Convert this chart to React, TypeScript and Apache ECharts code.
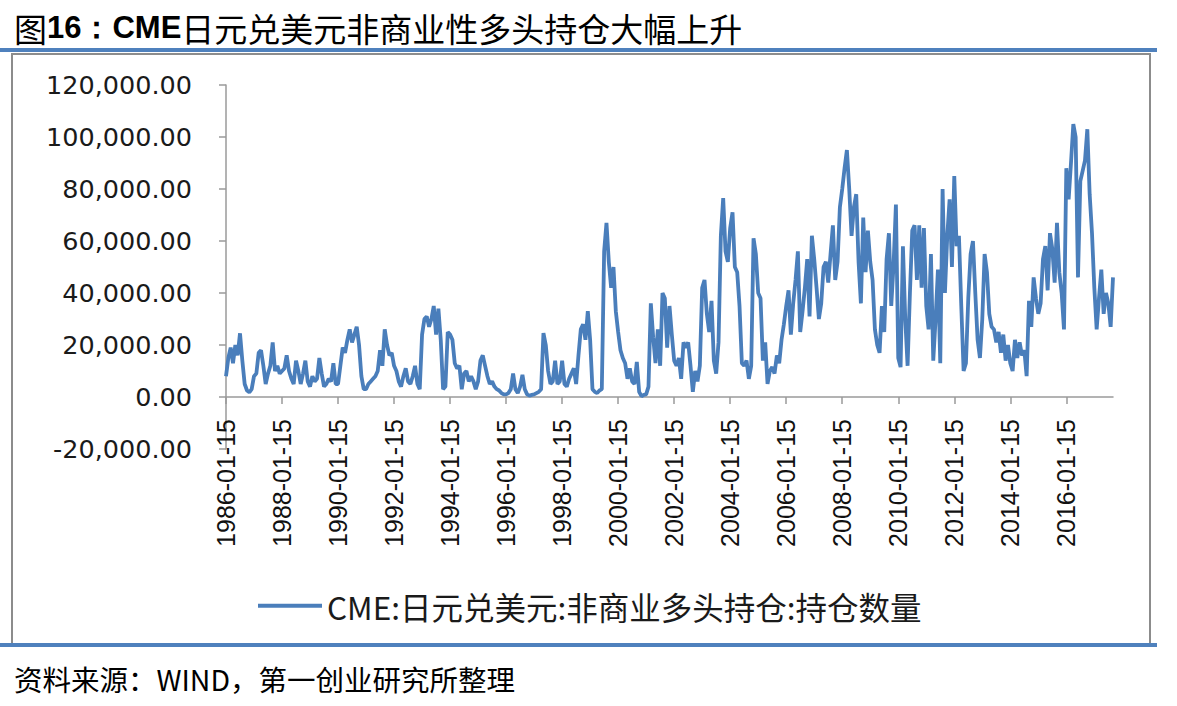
import React, { useEffect, useRef } from "react";
import * as echarts from "echarts";

// Monthly observation dates (mid-month), 1986-01-15 .. 2017-09-15
const startYear = 1986;
const endYear = 2017;
const endMonth = 9;
const categories: string[] = [];
for (let y = startYear; y <= endYear; y++) {
  for (let m = 1; m <= 12; m++) {
    if (y === endYear && m > endMonth) break;
    categories.push(`${y}-${String(m).padStart(2, "0")}-15`);
  }
}

// CME JPY/USD non-commercial long positions (contracts)
const positions1986_1991: number[] = [
  8000, 15000, 19000, 13000, 20000, 16000, 24500, 14000, 5000, 2500, 1800, 3000,
  8000, 9000, 17000, 18000, 12000, 5000, 9000, 12000, 21000, 10000, 12000, 9000,
  10000, 11000, 16000, 10000, 7000, 5000, 14000, 10000, 5000, 9000, 14000, 6000,
  4000, 8000, 6000, 7000, 15000, 9000, 4000, 5000, 7000, 6000, 13000, 5000,
  5000, 12000, 19000, 17000, 22000, 26000, 21000, 24000, 27000, 20000, 8000, 3000,
  3000, 5000, 6000, 7000, 8000, 10000, 18000, 12000, 26000, 20000, 16000, 17000,
];
const positions1992_1997: number[] = [
  12000, 10000, 6000, 4000, 8000, 11000, 6000, 5000, 8000, 12000, 5000, 3000,
  24000, 30000, 31000, 27000, 30000, 35000, 24000, 34000, 22000, 3000, 4000, 25000,
  24000, 22000, 13000, 11000, 12000, 3000, 9000, 10000, 6000, 8000, 6000, 3000,
  6000, 14000, 16000, 12000, 8000, 5000, 6000, 4000, 3000, 2500, 1500, 1000,
  1000, 1500, 3000, 9000, 3000, 1500, 4000, 8500, 3000, 1000, 500, 800,
  1000, 1500, 2000, 3000, 24600, 20000, 10000, 5000, 6000, 14000, 5000, 6000,
];
const positions1998_2003: number[] = [
  14000, 5000, 4000, 7000, 9000, 11000, 5000, 16000, 26000, 28000, 22000, 33000,
  22000, 3000, 2000, 1500, 2500, 3000, 56000, 67000, 52000, 42000, 50000, 33000,
  25000, 18000, 15000, 13000, 7000, 11000, 6000, 5000, 13500, 2000, 300, 800,
  1000, 4000, 36000, 23000, 13000, 26000, 12000, 40000, 38000, 19000, 35000, 24000,
  14000, 12000, 15000, 7000, 21000, 19000, 21000, 12000, 2000, 10000, 6000, 12000,
  42000, 45000, 32000, 25000, 37000, 14000, 9000, 21000, 62000, 76500, 56000, 52000,
];
const positions2004_2009: number[] = [
  65000, 71000, 50000, 48000, 35000, 13000, 12000, 14000, 7000, 12000, 61000, 55000,
  40000, 38000, 14000, 21000, 5000, 10000, 11500, 9000, 16000, 13000, 22000, 28000,
  35000, 41000, 24000, 36000, 45000, 56000, 25000, 33000, 42000, 53000, 31000, 62000,
  53000, 42000, 30000, 36000, 50000, 52000, 44000, 55000, 66000, 45000, 52000, 73000,
  80000, 88000, 95000, 80000, 62000, 73000, 78000, 52000, 36000, 69000, 48000, 64000,
  52000, 45000, 26000, 20000, 17000, 35000, 25000, 53000, 63000, 35000, 51000, 74000,
];
const positions2010_2017: number[] = [
  15000, 11500, 58000, 30000, 12000, 40000, 64000, 66000, 45000, 66000, 42000, 65000,
  35000, 26000, 55000, 14000, 30000, 49000, 13000, 80000, 40000, 62000, 76000, 50000,
  85000, 58000, 62000, 35000, 10000, 13000, 38000, 55000, 60000, 40000, 22000, 15000,
  30000, 55000, 48000, 32000, 27000, 26000, 21000, 25000, 17000, 24000, 14000, 20000,
  13000, 10000, 22000, 15000, 21000, 16000, 18000, 8000, 37000, 27000, 46000, 38000,
  32000, 36000, 53000, 58000, 41000, 63000, 57000, 44000, 67000, 48000, 40000, 26000,
  88000, 76000, 90000, 105000, 100000, 46000, 83000, 87000, 91000, 103000, 78000, 63000,
  42000, 26000, 38000, 49000, 32000, 40000, 36000, 27000, 46000,
];
const positions: number[] = [
  ...positions1986_1991,
  ...positions1992_1997,
  ...positions1998_2003,
  ...positions2004_2009,
  ...positions2010_2017,
];

const seriesName = "CME:日元兑美元:非商业多头持仓:持仓数量";
const titlePrefix = "图";
const titleBold = "16：CME";
const titleRest = "日元兑美元非商业性多头持仓大幅上升";
const sourceText = "资料来源：WIND，第一创业研究所整理";

const yMin = -20000;
const yMax = 120000;
const yInterval = 20000;

export default function App() {
  const ref = useRef<HTMLDivElement>(null);

  useEffect(() => {
    if (!ref.current) return;
    const chart = echarts.init(ref.current, undefined, { renderer: "svg" });
    const blue = "#4F81BD";
    const frame = "#8C8C8C";
    const axisGray = "#9A9A9A";
    chart.setOption({
      animation: false,
      backgroundColor: "#ffffff",
      grid: { left: 226, right: 64, top: 85, bottom: 257, containLabel: false },
      xAxis: {
        type: "category",
        data: categories,
        boundaryGap: false,
        position: "bottom",
        offset: -52,
        axisLine: { onZero: false, lineStyle: { color: axisGray, width: 1.5 } },
        axisTick: { interval: 23, length: 7, lineStyle: { color: axisGray, width: 1.5 } },
        axisLabel: {
          interval: 23,
          rotate: 90,
          margin: 22,
          color: "#111",
          fontSize: 25,
          fontFamily: "Liberation Sans, Arial, sans-serif",
        },
        splitLine: { show: false },
      },
      yAxis: {
        type: "value",
        min: yMin,
        max: yMax,
        interval: yInterval,
        axisLine: { show: true, lineStyle: { color: axisGray, width: 1.5 } },
        axisTick: { show: true, length: 7, lineStyle: { color: axisGray, width: 1.5 } },
        axisLabel: {
          margin: 34,
          color: "#1a1a1a",
          fontSize: 25.5,
          fontFamily: "DejaVu Sans, Verdana, sans-serif",
          formatter: (v: number) =>
            v.toLocaleString("en-US", { minimumFractionDigits: 2, maximumFractionDigits: 2 }),
        },
        splitLine: { show: false },
      },
      legend: {
        show: true,
        left: 253,
        top: 585,
        icon: "rect",
        itemWidth: 64,
        itemHeight: 4,
        itemGap: 10,
        textStyle: {
          fontSize: 31.5,
          color: "#1a1a1a",
          fontFamily: "Noto Sans CJK SC, Liberation Sans, sans-serif",
        },
        data: [seriesName],
      },
      series: [
        {
          name: seriesName,
          type: "line",
          data: positions,
          showSymbol: false,
          symbol: "none",
          lineStyle: { color: "#4A7EBB", width: 3.8 },
          itemStyle: { color: "#4A7EBB" },
        },
      ],
      graphic: [
        {
          type: "rect",
          shape: { x: 12, y: 54, width: 1138, height: 591 },
          style: { fill: "none", stroke: frame, lineWidth: 2 },
          z: 0,
        },
        {
          type: "rect",
          shape: { x: 0, y: 48, width: 1157, height: 4 },
          style: { fill: blue },
          z: 1,
        },
        {
          type: "rect",
          shape: { x: 0, y: 643, width: 1157, height: 4 },
          style: { fill: blue },
          z: 1,
        },
        {
          type: "text",
          left: 14,
          top: 11,
          style: {
            text: `{a|${titlePrefix}}{b|${titleBold}}{a|${titleRest}}`,
            rich: {
              a: {
                fontSize: 33,
                fontFamily: "Noto Sans CJK SC, sans-serif",
                fontWeight: "normal",
                fill: "#000",
              },
              b: {
                fontSize: 31,
                fontFamily: "Liberation Sans, Arial, sans-serif",
                fontWeight: "bold",
                fill: "#000",
              },
            },
          },
        },
        {
          type: "text",
          left: 14,
          top: 664,
          style: {
            text: sourceText,
            fontSize: 28.5,
            fontFamily: "Noto Sans CJK SC, Liberation Sans, sans-serif",
            fill: "#000",
          },
        },
      ],
    });
    return () => chart.dispose();
  }, []);

  return (
    <div
      ref={ref}
      style={{ position: "fixed", left: 0, top: 0, width: 1177, height: 706, background: "#fff" }}
    />
  );
}
